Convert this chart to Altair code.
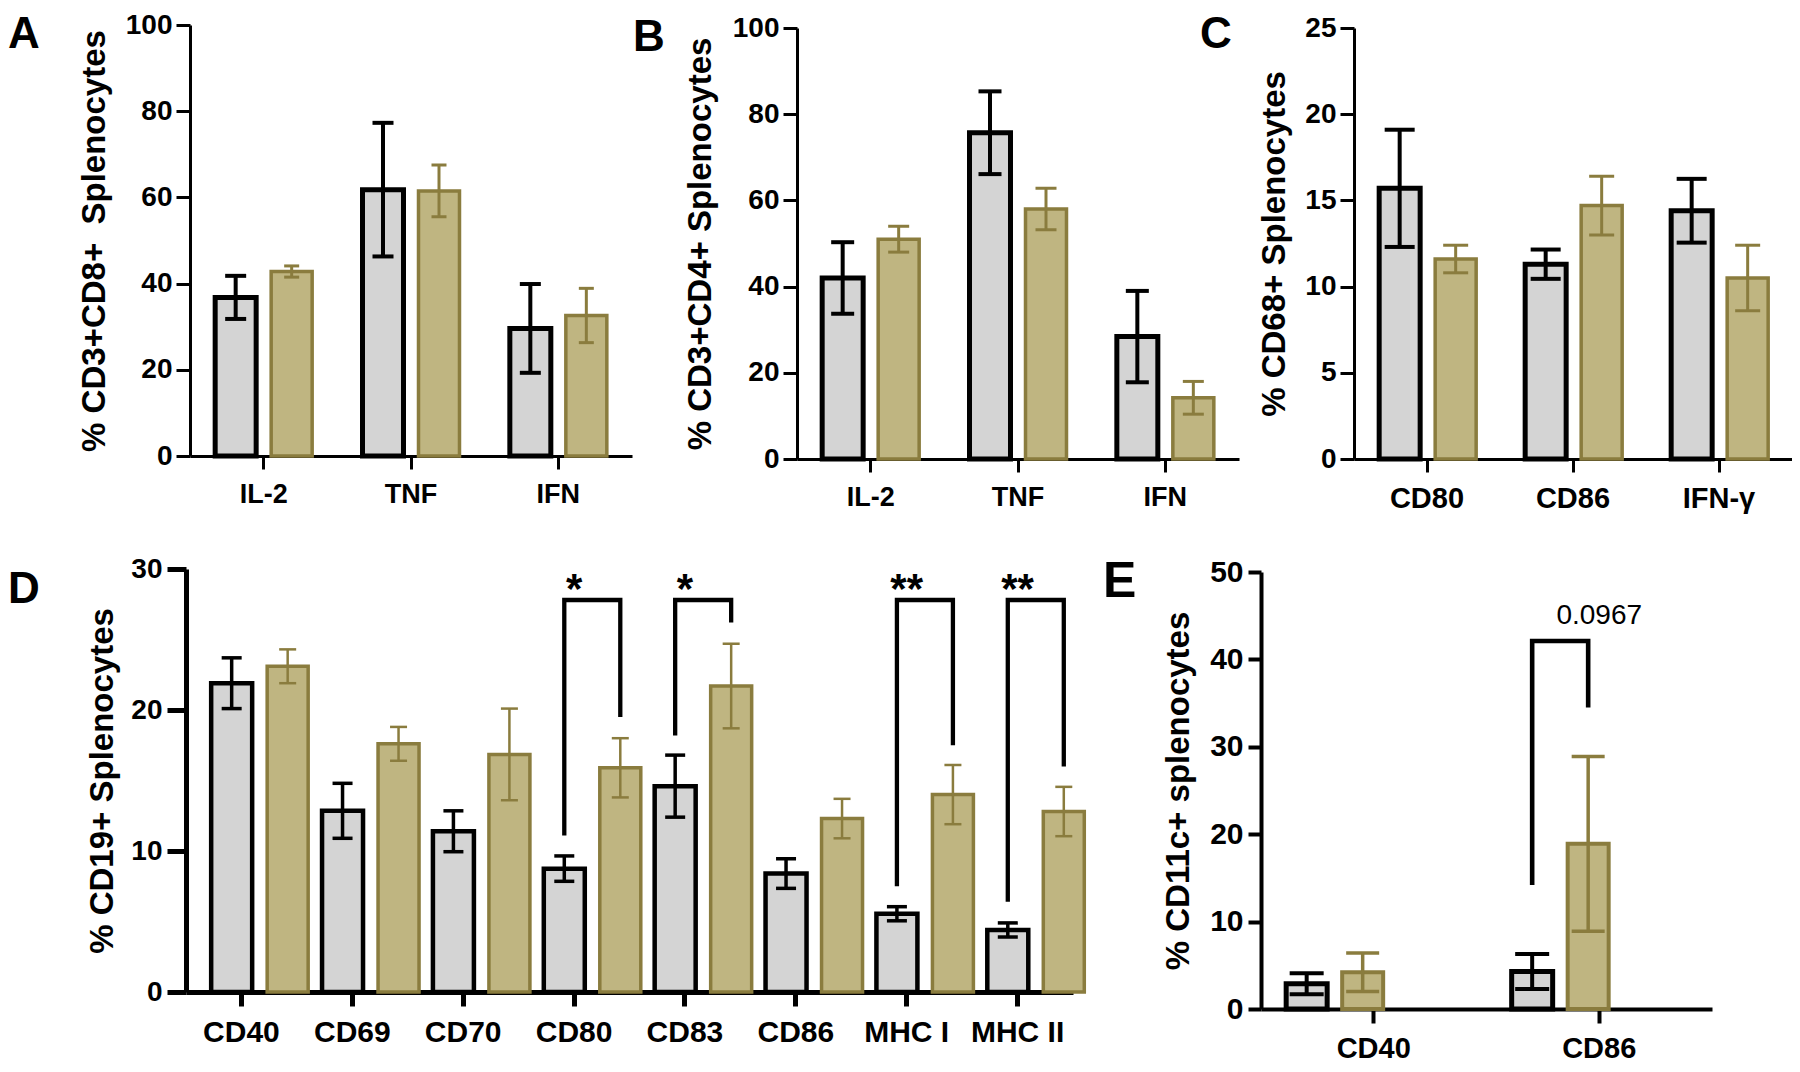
import altair as alt
import pandas as pd

FONT = "Liberation Sans"
GRAY = "#d4d4d4"
GOLD = "#bfb581"
OLIVE = "#8a7c3e"
BLACK = "#000000"
GROUPS = ["ctrl", "trt"]

# ---------------- data ----------------
a_cats = ["IL-2", "TNF", "IFN"]
a_ctrl = [36.8, 61.8, 29.6]
a_ctrl_sd = [5.0, 15.5, 10.3]
a_trt = [42.8, 61.5, 32.6]
a_trt_sd = [1.3, 6.0, 6.3]

b_cats = ["IL-2", "TNF", "IFN"]
b_ctrl = [42.0, 75.7, 28.4]
b_ctrl_sd = [8.3, 9.6, 10.6]
b_trt = [51.0, 58.0, 14.2]
b_trt_sd = [3.0, 4.8, 3.8]

c_cats = ["CD80", "CD86", "IFN-γ"]
c_ctrl = [15.7, 11.3, 14.4]
c_ctrl_sd = [3.4, 0.85, 1.85]
c_trt = [11.6, 14.7, 10.5]
c_trt_sd = [0.8, 1.7, 1.9]

d_cats = ["CD40", "CD69", "CD70", "CD80", "CD83", "CD86", "MHC I", "MHC II"]
d_ctrl = [21.9, 12.85, 11.4, 8.75, 14.6, 8.4, 5.55, 4.4]
d_ctrl_sd = [1.8, 1.95, 1.45, 0.9, 2.2, 1.05, 0.5, 0.5]
d_trt = [23.1, 17.6, 16.85, 15.9, 21.7, 12.3, 14.0, 12.8]
d_trt_sd = [1.2, 1.2, 3.25, 2.1, 3.0, 1.4, 2.1, 1.75]

d_sig_cats = ["CD80", "CD83", "MHC I", "MHC II"]
d_sig_labels = ["*", "*", "**", "**"]
d_sig_top = [27.8, 27.8, 27.8, 27.8]
d_sig_left = [11.1, 18.2, 7.5, 6.4]
d_sig_right = [19.5, 26.2, 17.5, 16.0]

e_cats = ["CD40", "CD86"]
e_ctrl = [2.9, 4.3]
e_ctrl_sd = [1.2, 2.0]
e_trt = [4.2, 18.9]
e_trt_sd = [2.2, 10.0]

e_sig_cats = ["CD86"]
e_sig_labels = ["0.0967"]
e_sig_top = [42.1]
e_sig_left = [14.2]
e_sig_right = [34.5]


def make_panel(cats, ctrl, ctrl_sd, trt, trt_sd, st, sig=None):
    rows = []
    for c, m, s in zip(cats, ctrl, ctrl_sd):
        rows.append({"cat": c, "g": "ctrl", "mean": m, "lo": m - s, "hi": m + s})
    for c, m, s in zip(cats, trt, trt_sd):
        rows.append({"cat": c, "g": "trt", "mean": m, "lo": m - s, "hi": m + s})
    df = pd.DataFrame(rows)
    H = st["height"]
    x = alt.X(
        "cat:N", sort=cats, title=None,
        scale=alt.Scale(domain=cats, paddingInner=0, paddingOuter=0),
        axis=alt.Axis(labelAngle=0, labelFont=FONT, labelFontSize=st["xlab"], labelFontWeight="bold",
                      labelColor=BLACK, labelPadding=st["xpad"], tickSize=st["xtick"], tickWidth=st["aw"],
                      tickColor=BLACK, domainColor=BLACK, domainWidth=st["aw"], grid=False,
                      labelBaseline="top"),
    )
    xo = alt.XOffset("g:N", sort=GROUPS,
                     scale=alt.Scale(domain=GROUPS, paddingInner=st["pi"], paddingOuter=st["po"]))
    ysc = alt.Scale(domain=[0, st["ymax"]], range=[H, st["top"]], nice=False, zero=True)
    yax = alt.Axis(values=list(range(0, st["ymax"] + 1, st["ystep"])), format="d",
                   title=st["title"], titleFont=FONT, titleFontSize=33, titleFontWeight="bold",
                   titleColor=BLACK, titleX=st["tx"], titleY=(H + st["top"]) / 2, titleAngle=270,
                   titleAlign="center", titleBaseline="middle",
                   labelFont=FONT, labelFontSize=st["ylab"], labelFontWeight="bold", labelColor=BLACK,
                   labelPadding=st["ypad"], tickSize=st["ytick"], tickWidth=st["aw"], tickColor=BLACK,
                   domainColor=BLACK, domainWidth=st["aw"], grid=False)
    base = alt.Chart(df)
    layers = []
    specs = [("ctrl", GRAY, BLACK, st["gsw"], st["gew"], st["gcap"]),
             ("trt", GOLD, OLIVE, st["tsw"], st["tew"], st["tcap"])]
    for g, fill, stroke, sw, ew, cap in specs:
        sub = base.transform_filter(alt.datum.g == g)
        layers.append(sub.mark_bar(fill=fill, stroke=stroke, strokeWidth=sw, opacity=1).encode(
            x=x, xOffset=xo, y=alt.Y("mean:Q", scale=ysc, axis=yax)))
        layers.append(sub.mark_rule(color=stroke, strokeWidth=ew, opacity=1).encode(
            x=x, xOffset=xo, y=alt.Y("lo:Q", scale=ysc, axis=yax), y2="hi:Q"))
        layers.append(sub.transform_fold(["lo", "hi"], as_=["k", "v"]).mark_tick(
            color=stroke, thickness=ew, size=cap, opacity=1).encode(
            x=x, xOffset=xo, y=alt.Y("v:Q", scale=ysc, axis=yax)))
    if sig is not None:
        scats, slabs, stop, sleft, sright = sig
        brows, lrows = [], []
        for c, lab, t, l, r in zip(scats, slabs, stop, sleft, sright):
            brows += [{"cat": c, "g": "ctrl", "v": l, "o": 0},
                      {"cat": c, "g": "ctrl", "v": t, "o": 1},
                      {"cat": c, "g": "trt", "v": t, "o": 2},
                      {"cat": c, "g": "trt", "v": r, "o": 3}]
            lrows.append({"cat": c, "lab": lab, "t": t})
        layers.append(alt.Chart(pd.DataFrame(brows)).mark_line(
            color=BLACK, strokeWidth=st["bw"], strokeJoin="miter", opacity=1).encode(
            x=x, xOffset=xo, y=alt.Y("v:Q", scale=ysc, axis=yax), detail="cat:N", order="o:Q"))
        layers.append(alt.Chart(pd.DataFrame(lrows)).mark_text(
            font=FONT, fontSize=st["sfs"], fontWeight=st["sfw"], color=BLACK,
            baseline="alphabetic", align="center", dy=st["sdy"]).encode(
            x=x, y=alt.Y("t:Q", scale=ysc, axis=yax), text="lab:N"))
    layers.append(alt.Chart(pd.DataFrame({"t": [st["letter"]]})).mark_text(
        align="left", baseline="top", font=FONT, fontSize=st["lsize"], fontWeight="bold",
        color=BLACK).encode(x=alt.value(st["ldx"]), y=alt.value(st["ldy"]), text="t:N"))
    return alt.layer(*layers).properties(width=st["width"], height=H)


top_style = dict(aw=3, ytick=14, xtick=13, ypad=4, xpad=12, xlab=27, ylab=28,
                 gsw=5, tsw=3.5, gew=4, tew=3, lsize=44, pi=0.268)

st_a = dict(top_style, width=442, height=431, top=0, ymax=100, ystep=20,
            title="% CD3+CD8+\u00a0 Splenocytes", tx=-96, po=0.4495,
            gcap=21, tcap=15, letter="A", ldx=-182, ldy=-12)
st_b = dict(top_style, width=442, height=434, top=3, ymax=100, ystep=20,
            title="% CD3+CD4+ Splenocytes", tx=-97, po=0.4495,
            gcap=23, tcap=21, letter="B", ldx=-164, ldy=-9)
st_c = dict(top_style, width=438, height=434, top=3, ymax=25, ystep=5, xlab=29,
            title="% CD68+ Splenocytes", tx=-80, po=0.4375,
            gcap=30, tcap=25, letter="C", ldx=-154, ldy=-12)
st_d = dict(aw=5, ytick=19, xtick=14, ypad=5, xpad=11, xlab=30, ylab=28,
            gsw=4.5, tsw=3.5, gew=3.5, tew=2.5, gcap=20, tcap=17, lsize=44,
            width=887, height=423, top=0, ymax=30, ystep=10,
            title="% CD19+ Splenocytes", tx=-84, pi=0.3095, po=0.4747,
            letter="D", ldx=-178, ldy=-1, bw=4.3, sfs=42, sfw="bold", sdy=3)
st_e = dict(aw=4, ytick=13, xtick=14, ypad=5, xpad=11, xlab=29, ylab=30,
            gsw=5, tsw=4, gew=4, tew=3.5, gcap=34, tcap=33, lsize=50,
            width=451, height=440, top=3, ymax=50, ystep=10,
            title="% CD11c+ splenocytes", tx=-83, pi=0.2308, po=0.4497,
            letter="E", ldx=-158, ldy=-12, bw=4.6, sfs=28, sfw="normal", sdy=-17)

pA = make_panel(a_cats, a_ctrl, a_ctrl_sd, a_trt, a_trt_sd, st_a)
pB = make_panel(b_cats, b_ctrl, b_ctrl_sd, b_trt, b_trt_sd, st_b)
pC = make_panel(c_cats, c_ctrl, c_ctrl_sd, c_trt, c_trt_sd, st_c)
pD = make_panel(d_cats, d_ctrl, d_ctrl_sd, d_trt, d_trt_sd, st_d,
                sig=(d_sig_cats, d_sig_labels, d_sig_top, d_sig_left, d_sig_right))
pE = make_panel(e_cats, e_ctrl, e_ctrl_sd, e_trt, e_trt_sd, st_e,
                sig=(e_sig_cats, e_sig_labels, e_sig_top, e_sig_left, e_sig_right))


def spacer(w, h):
    return alt.Chart(pd.DataFrame({"v": [0]})).mark_point(opacity=0).encode(
        x=alt.X("v:Q", axis=None), y=alt.Y("v:Q", axis=None)).properties(width=w, height=h)


top_row = alt.hconcat(spacer(4, 10), pA, spacer(165, 10), pB, spacer(115, 10), pC,
                      spacing=0, bounds="flush")
bottom_row = alt.hconcat(pD, spacer(188, 10), pE, spacing=0, bounds="flush")

# nested rows count as zero-height under flush bounds, so the row gap carries the top row height
chart = alt.vconcat(top_row, bottom_row, spacing=544, bounds="flush").configure_view(
    stroke=None).properties(padding={"left": 0, "right": 0, "top": 3, "bottom": 0},
                            background="white")

chart.save("out.html", embed_options={"renderer": "svg", "actions": False})
